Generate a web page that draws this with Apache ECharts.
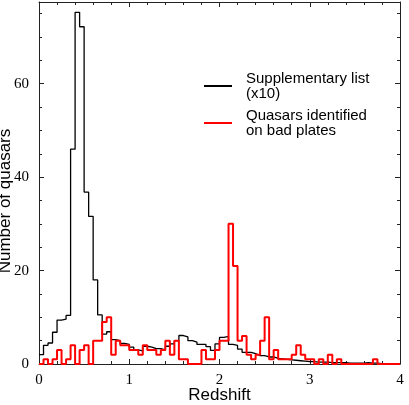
<!DOCTYPE html>
<html>
<head>
<meta charset="utf-8">
<title>Redshift histogram</title>
<script src="https://cdn.jsdelivr.net/npm/echarts@6/dist/echarts.min.js"></script>
<style>
  html, body { margin: 0; padding: 0; background: #fff; }
  #main { width: 409px; height: 405px; }
</style>
</head>
<body>
<div id="main"></div>
<script>
// bins are 0.05 wide, from z = 0 to z = 4
var binWidth = 0.05;
var xTicks = ['0', '1', '2', '3', '4'];
var yTicks = [0, 20, 40, 60];

// supplementary list, counts shown divided by 10
var supplementary = [
  2, 4, 4.5, 6.8, 9.4, 9.6, 10.4, 46, 75.3, 72.2,
  36.8, 31.6, 18, 10.5, 6.4, 6.9, 5.2, 5, 4.4, 4.2,
  3.6, 3.0, 2.8, 3.8, 3.6, 3.3, 3.3, 3.0, 3.8, 4.3,
  5, 6.1, 5.8, 5, 4.7, 4.2, 4.2, 3.7, 2.9, 4.3,
  5.7, 5.9, 4.2, 4, 3.2, 2.5, 2.5, 2.2, 1.8, 1.8,
  1.5, 1.5, 1.2, 1.1, 1.0, 0.9, 0.8, 0.7, 0.6, 0.5,
  0.5, 0.4, 0.4, 0.4, 0.3, 0.3, 0.3, 0.3, 0.2, 0.2,
  0.2, 0.2, 0.3, 0.2, 0.2, 0.1, 0.1, 0.1, 0.1, 0.1
];

// quasars identified on bad plates
var badPlates = [
  0, 1, 0, 1, 3, 0, 1, 4, 0, 3,
  4, 0, 5, 5, 9, 10, 2, 5, 4, 4,
  3, 3, 2, 4, 3, 3, 2, 3, 5, 2,
  5, 1, 1, 0, 0, 0, 3, 1, 1, 3,
  5, 5, 30, 21, 5, 6, 2, 1, 2, 5,
  10, 1, 3, 1, 1, 1, 2, 4, 2, 1,
  1, 0, 1, 0, 2, 0, 1, 0, 0, 0,
  0, 0, 0, 0, 1, 0, 0, 0, 0, 0
];

var seriesNames = ['Supplementary list\n(x10)', 'Quasars identified\non bad plates'];

// turn bin counts into step points (left edge of each bin + closing right edge)
function toSteps(counts) {
  var pts = [];
  for (var i = 0; i < counts.length; i++) {
    pts.push([+(i * binWidth).toFixed(2), counts[i]]);
  }
  pts.push([+(counts.length * binWidth).toFixed(2), counts[counts.length - 1]]);
  return pts;
}

var axisColor = '#222';
var serif = 'Liberation Serif';
var sans = 'Liberation Sans';

function xAxisCfg(pos, withLabels) {
  return {
    type: 'value',
    position: pos,
    min: 0,
    max: 4,
    interval: 1,
    axisLine: { show: true, onZero: false, lineStyle: { color: axisColor, width: 1 } },
    axisTick: { show: true, inside: true, length: 5, lineStyle: { color: axisColor } },
    minorTick: { show: true, splitNumber: 5, length: 3, lineStyle: { color: axisColor } },
    splitLine: { show: false },
    axisLabel: {
      show: withLabels,
      margin: 9,
      fontFamily: serif,
      fontSize: 15,
      color: '#000',
      formatter: function (v) { return xTicks[Math.round(v)]; }
    },
    name: withLabels ? 'Redshift' : '',
    nameLocation: 'middle',
    nameGap: 23,
    nameMoveOverlap: false,
    nameTextStyle: { fontFamily: sans, fontSize: 17, color: '#000' }
  };
}

function yAxisCfg(pos, withLabels) {
  return {
    type: 'value',
    position: pos,
    min: 0,
    max: 77.5,
    interval: 20,
    axisLine: { show: true, onZero: false, lineStyle: { color: axisColor, width: 1 } },
    axisTick: { show: true, inside: true, length: 5, lineStyle: { color: axisColor } },
    minorTick: { show: true, splitNumber: 4, length: 3, lineStyle: { color: axisColor } },
    splitLine: { show: false },
    axisLabel: {
      show: withLabels,
      margin: 10,
      fontFamily: serif,
      fontSize: 15,
      color: '#000',
      showMaxLabel: false,
      formatter: function (v) { return yTicks.indexOf(v) >= 0 ? String(v) : ''; }
    }
  };
}

var myChart = echarts.init(document.getElementById('main'), null, { renderer: 'canvas' });

var option = {
  backgroundColor: '#fff',
  animation: false,
  grid: { left: 39, right: 9, top: 2, bottom: 41, containLabel: false, outerBoundsMode: 'none' },
  xAxis: [xAxisCfg('bottom', true), xAxisCfg('top', false)],
  yAxis: [yAxisCfg('left', true), yAxisCfg('right', false)],
  legend: {
    orient: 'vertical',
    left: 204,
    top: 71,
    padding: 0,
    itemGap: 7,
    itemWidth: 28,
    itemHeight: 2,
    icon: 'rect',
    data: seriesNames,
    textStyle: {
      fontFamily: sans,
      fontSize: 15,
      lineHeight: 15,
      color: '#000',
      padding: [0, 0, 0, 9]
    }
  },
  graphic: [
    {
      // y axis title, partly cut by the left edge like the original
      type: 'text',
      x: 5,
      y: 201,
      rotation: Math.PI / 2,
      style: {
        text: 'Number of quasars',
        font: '17px "Liberation Sans"',
        fill: '#000',
        textAlign: 'center',
        textVerticalAlign: 'middle'
      }
    }
  ],
  series: [
    {
      name: seriesNames[0],
      type: 'line',
      step: 'end',
      symbol: 'none',
      color: '#000',
      lineStyle: { color: '#000', width: 1.3 },
      data: toSteps(supplementary)
    },
    {
      name: seriesNames[1],
      type: 'line',
      step: 'end',
      symbol: 'none',
      color: '#ff0000',
      lineStyle: { color: '#ff0000', width: 2 },
      data: toSteps(badPlates)
    },
    {
      // empty series so the top and right frame axes get drawn
      type: 'line',
      xAxisIndex: 1,
      yAxisIndex: 1,
      silent: true,
      data: []
    }
  ]
};

option && myChart.setOption(option);
</script>
</body>
</html>
